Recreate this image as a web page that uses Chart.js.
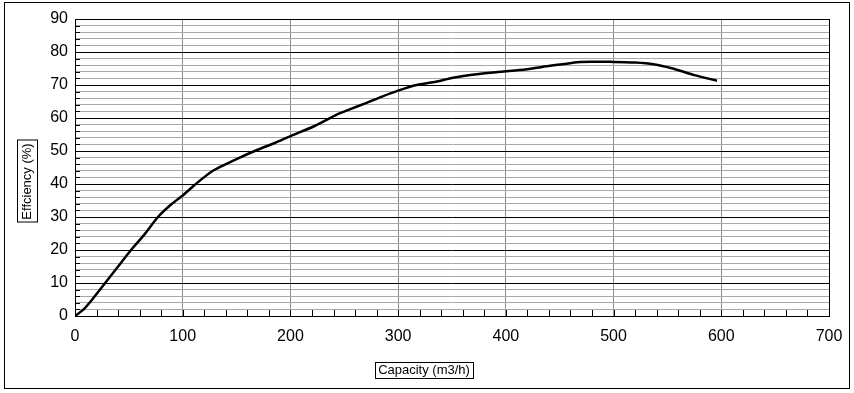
<!DOCTYPE html>
<html lang="en">
<head>
    <meta charset="UTF-8">
    <title>Efficiency curve</title>
    <script src="https://cdn.jsdelivr.net/npm/chart.js"></script>
    <style>
        body { margin: 0; background: #fff; }
        #wrap { position: absolute; left: 0; top: 0; width: 854px; height: 393px; }
    </style>
</head>
<body>
    <div id="wrap"><canvas id="effChart" width="854" height="393"></canvas></div>

    <script>
        // capacity (m3/h) and efficiency (%)
        var capacity = [0, 8, 16, 28, 40, 52, 64, 77, 90, 100, 111, 128, 153, 169, 186, 200, 222, 243, 255, 270, 285, 300, 317, 335, 351, 375, 395, 418, 441, 469, 500, 520, 537, 555, 575, 596];
        var efficiency = [0, 2, 5, 10, 15, 20, 24.5, 30, 34, 36.5, 39.7, 44, 48, 50.3, 52.5, 54.5, 57.5, 61, 62.6, 64.5, 66.5, 68.3, 70, 71, 72.2, 73.3, 74, 74.7, 75.8, 77, 77, 76.8, 76.3, 75, 73, 71.3];
        var xTitle = 'Capacity (m3/h)';
        var yTitle = 'Effciency (%)';

        var points = capacity.map(function (c, i) { return { x: c, y: efficiency[i] }; });
        var FONT = '"Liberation Sans", Arial, sans-serif';

        // frame, inner tick marks and boxed axis titles
        var decor = {
            id: 'decor',
            beforeDraw: function (chart) {
                var c = chart.ctx;
                c.save();
                c.fillStyle = '#fff';
                c.fillRect(0, 0, chart.width, chart.height);
                c.strokeStyle = '#000';
                c.lineWidth = 1;
                c.strokeRect(4.5, 2.5, 845, 386);
                c.restore();
            },
            afterDraw: function (chart) {
                var c = chart.ctx, a = chart.chartArea;
                var xs = chart.scales.x, ys = chart.scales.y;
                c.save();
                c.strokeStyle = '#000';
                c.lineWidth = 1;
                c.beginPath();
                xs.ticks.forEach(function (t) {
                    var px = Math.round(xs.getPixelForValue(t.value)) + 0.5;
                    c.moveTo(px, a.bottom);
                    c.lineTo(px, a.bottom - 6);
                });
                ys.ticks.forEach(function (t) {
                    var py = Math.round(ys.getPixelForValue(t.value)) + 0.5;
                    c.moveTo(a.left, py);
                    c.lineTo(a.left + 5, py);
                });
                c.stroke();
                c.strokeRect(Math.round(a.left) + 0.5, Math.round(a.top) + 0.5,
                    Math.round(a.right - a.left), Math.round(a.bottom - a.top));

                c.font = '13px ' + FONT;
                c.fillStyle = '#000';
                c.textAlign = 'center';
                c.textBaseline = 'middle';
                // x title
                var w = c.measureText(xTitle).width;
                c.fillText(xTitle, 424, 370);
                c.strokeRect(Math.round(424 - w / 2 - 3) + 0.5, 362.5, Math.round(w + 6), 16);
                // y title
                w = c.measureText(yTitle).width;
                c.translate(27, 181.5);
                c.rotate(-Math.PI / 2);
                c.fillText(yTitle, 0, 0);
                c.strokeRect(Math.round(-w / 2 - 3) + 0.5, -9.5, Math.round(w + 6), 20);
                c.restore();
            }
        };

        var ctx = document.getElementById('effChart').getContext('2d');
        var chart = new Chart(ctx, {
            type: 'scatter',
            data: {
                datasets: [{
                    data: points,
                    showLine: true,
                    borderColor: '#000',
                    borderWidth: 2.5,
                    pointRadius: 0,
                    tension: 0.2
                }]
            },
            plugins: [decor],
            options: {
                responsive: false,
                animation: false,
                layout: { padding: { left: 0, top: 19, right: 25, bottom: 0 } },
                plugins: { legend: { display: false }, tooltip: { enabled: false } },
                scales: {
                    x: {
                        type: 'linear',
                        min: 0,
                        max: 700,
                        afterFit: function (s) { s.height = 77; },
                        border: { display: true, color: '#000', width: 1 },
                        grid: {
                            drawTicks: false,
                            color: function (ctx) {
                                var v = ctx.tick ? ctx.tick.value : 0;
                                return v % 100 === 0 ? '#8c8c8c' : 'rgba(0,0,0,0)';
                            }
                        },
                        ticks: {
                            stepSize: 20,
                            autoSkip: false,
                            maxRotation: 0,
                            padding: 11,
                            color: '#000',
                            font: { family: FONT, size: 16 },
                            callback: function (v) { return v % 100 === 0 ? v : ''; }
                        }
                    },
                    y: {
                        min: 0,
                        max: 90,
                        afterFit: function (s) { s.width = 75; },
                        border: { display: true, color: '#000', width: 1 },
                        grid: {
                            drawTicks: false,
                            color: function (ctx) {
                                var v = ctx.tick ? ctx.tick.value : 0;
                                return v % 10 === 0 ? '#000' : '#a8a8a8';
                            }
                        },
                        ticks: {
                            stepSize: 2,
                            autoSkip: false,
                            padding: 7,
                            color: '#000',
                            font: { family: FONT, size: 16 },
                            callback: function (v) { return v % 10 === 0 ? v : ''; }
                        }
                    }
                }
            }
        });
    </script>
</body>
</html>
